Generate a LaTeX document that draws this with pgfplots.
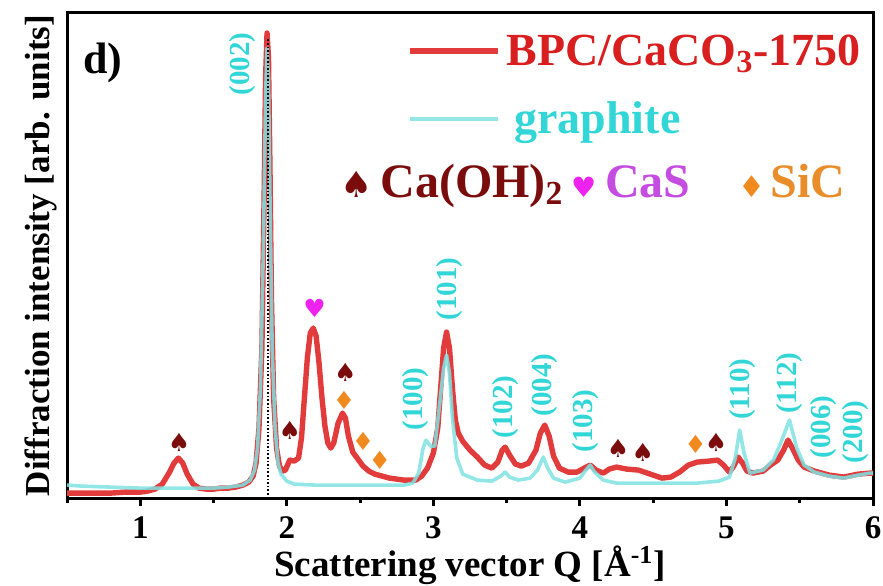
\documentclass[border=0pt]{standalone}
\usepackage{pgfplots}
\pgfplotsset{compat=1.18}
\usepackage{fontspec}
\setmainfont{Liberation Serif}
\newfontfamily\symfont{DejaVu Sans}
\definecolor{redline}{HTML}{E23B3B}
\definecolor{redtext}{HTML}{D81E1E}
\definecolor{cyanline}{HTML}{7FE2E2}
\definecolor{cyantext}{HTML}{33D6D6}
\definecolor{darkred}{HTML}{7A0C0C}
\definecolor{heartc}{HTML}{EE22EE}
\definecolor{casc}{HTML}{C44CE0}
\definecolor{orangec}{HTML}{F08A1E}
\definecolor{sicc}{HTML}{E98C2A}
\begin{document}
\begin{tikzpicture}
\begin{axis}[name=ax, scale only axis, width=403pt, height=242.5pt,
  xmin=0.5, xmax=6, ymin=0, ymax=485,
  axis line style={line width=1.5pt},
  xtick={1,2,3,4,5,6}, minor xtick={0.5,1.5,2.5,3.5,4.5,5.5}, ytick=\empty,
  xtick pos=bottom, tick align=outside,
  major tick length=4pt, minor tick length=2.5pt,
  tick style={black, line width=1.5pt},
  /pgf/number format/assume math mode=true,
  ticklabel style={font=\fontsize{16.5}{19}\selectfont\bfseries, inner sep=0.5pt},
  xticklabel style={yshift=-4.5pt},
  xlabel={Scattering vector Q [Å\textsuperscript{-1}]},
  xlabel style={font=\fontsize{18.5}{22}\selectfont\bfseries, inner sep=0pt, at={(axis description cs:0.5,-0.1608)}, anchor=base},
  ylabel={Diffraction intensity [arb. units]},
  ylabel style={font=\fontsize{17.5}{21}\selectfont\bfseries, inner sep=1pt, at={(axis description cs:-0.0211,0.5)}, anchor=base},
  legend style={at={(0.4218,0.9546)}, anchor=north west, draw=none, fill=none, inner sep=0pt, outer sep=0pt, row sep=18pt, column sep=3pt, nodes={inner sep=0pt, text height=15pt, text depth=1pt, font=\fontsize{23}{27}\selectfont\bfseries}},
  legend cell align=left,
  legend image code/.code={\draw[#1] (0pt,0pt) -- (44pt,0pt);},
  clip=false,
]
\addplot[redline, line width=2.7pt, line join=round] coordinates {
(0.50,5) (0.60,5) (0.70,5) (0.80,5) (0.90,6) (1.00,6) (1.05,7) (1.10,9) (1.15,14) (1.20,26) (1.23,35) (1.26,40) (1.29,35) (1.32,24) (1.36,14) (1.40,10) (1.45,9) (1.50,9) (1.55,10) (1.60,10) (1.65,11) (1.70,13) (1.74,16) (1.77,22) (1.79,35) (1.81,70) (1.83,150) (1.845,300) (1.855,420) (1.865,465) (1.875,440) (1.885,330) (1.895,200) (1.91,100) (1.93,50) (1.95,32) (1.97,27) (1.99,28) (2.02,38) (2.05,37) (2.08,40) (2.10,60) (2.12,100) (2.14,140) (2.16,165) (2.18,170) (2.20,162) (2.22,135) (2.24,100) (2.26,72) (2.28,55) (2.30,50) (2.32,55) (2.35,75) (2.38,85) (2.40,80) (2.42,62) (2.45,46) (2.48,40) (2.52,32) (2.56,27) (2.60,24) (2.70,20) (2.80,18) (2.88,18) (2.92,22) (2.96,30) (3.00,45) (3.03,70) (3.05,110) (3.07,150) (3.09,166) (3.11,150) (3.13,110) (3.15,78) (3.17,65) (3.20,57) (3.25,48) (3.30,41) (3.35,33) (3.40,30) (3.44,36) (3.47,48) (3.49,51) (3.52,43) (3.56,34) (3.60,32) (3.65,35) (3.70,48) (3.73,65) (3.76,73) (3.79,62) (3.82,42) (3.86,30) (3.92,26) (3.98,26) (4.03,30) (4.07,33) (4.11,28) (4.16,25) (4.20,29) (4.25,31) (4.32,29) (4.40,28) (4.48,24) (4.56,20) (4.62,21) (4.68,26) (4.74,33) (4.80,36) (4.88,37) (4.94,38) (4.98,33) (5.02,26) (5.05,32) (5.08,41) (5.11,35) (5.14,27) (5.18,25) (5.25,27) (5.30,33) (5.35,38) (5.39,48) (5.42,58) (5.45,50) (5.49,38) (5.53,31) (5.60,27) (5.70,23) (5.80,21) (5.90,24) (5.98,25) (6.00,25)
};
\addlegendentry{\textcolor{redtext}{BPC/CaCO\textsubscript{3}-1750}}
\addplot[cyanline, line width=1.8pt, line join=round, opacity=0.85] coordinates {
(0.50,13) (0.60,12) (0.80,11) (1.00,10) (1.20,10) (1.40,10) (1.50,10) (1.60,11) (1.70,13) (1.75,18) (1.78,28) (1.80,50) (1.82,110) (1.84,250) (1.855,400) (1.865,450) (1.875,420) (1.885,300) (1.90,150) (1.92,70) (1.94,35) (1.96,24) (2.00,17) (2.05,14) (2.20,13) (2.40,13) (2.60,13) (2.80,13) (2.86,15) (2.90,25) (2.93,50) (2.95,58) (2.98,52) (3.01,52) (3.04,90) (3.07,130) (3.09,143) (3.11,125) (3.13,80) (3.16,40) (3.20,24) (3.30,18) (3.40,17) (3.46,22) (3.49,26) (3.52,21) (3.58,18) (3.66,20) (3.71,28) (3.75,41) (3.78,30) (3.82,20) (3.90,16) (4.00,20) (4.04,28) (4.07,33) (4.10,26) (4.16,18) (4.25,15) (4.40,15) (4.60,15) (4.80,15) (4.95,17) (5.02,21) (5.06,40) (5.09,68) (5.12,45) (5.16,25) (5.25,28) (5.32,38) (5.37,55) (5.43,78) (5.48,50) (5.53,33) (5.60,26) (5.70,22) (5.80,20) (5.90,23) (5.98,25) (6.00,25)
};
\addlegendentry{\hspace*{4pt}\textcolor{cyantext}{graphite}}
\addplot[black, densely dotted, line width=0.8pt, forget plot] coordinates {(1.87,0) (1.87,460)};

% peak labels
\begin{scope}[every node/.style={rotate=90, text=cyantext, font=\fontsize{14.5}{16}\selectfont\bfseries, inner sep=0pt}]
\node at (axis cs:1.70,434) {(002)};
\node at (axis cs:2.88,99) {(100)};
\node at (axis cs:3.11,209) {(101)};
\node at (axis cs:3.49,91) {(102)};
\node at (axis cs:3.76,113) {(004)};
\node at (axis cs:4.04,77) {(103)};
\node at (axis cs:5.11,109) {(110)};
\node at (axis cs:5.43,115) {(112)};
\node at (axis cs:5.66,71) {(006)};
\node at (axis cs:5.88,66) {(200)};
\end{scope}
% phase markers
\begin{scope}[every node/.style={font=\symfont\fontsize{12.5}{14}\selectfont, inner sep=0pt}]
\node[text=darkred] at (axis cs:1.265,56) {♠};
\node[text=darkred] at (axis cs:2.02,68) {♠};
\node[text=heartc] at (axis cs:2.19,190) {♥};
\node[text=darkred] at (axis cs:2.40,126) {♠};
\node[text=orangec] at (axis cs:2.39,98) {♦};
\node[text=orangec] at (axis cs:2.52,57) {♦};
\node[text=orangec] at (axis cs:2.635,38) {♦};
\node[text=darkred] at (axis cs:4.26,50) {♠};
\node[text=darkred] at (axis cs:4.43,46) {♠};
\node[text=orangec] at (axis cs:4.79,54) {♦};
\node[text=darkred] at (axis cs:4.93,56) {♠};
\end{scope}
% panel letter
\node[anchor=base west, inner sep=0pt, font=\fontsize{22}{26}\selectfont\bfseries] at (axis description cs:0.0199,0.8763) {d)};
% phase key row
\node[anchor=base west, inner sep=0pt, text=darkred, font=\symfont\fontsize{18}{20}\selectfont] at (axis description cs:0.3390,0.6206) {♠};
\node[anchor=base west, inner sep=0pt, text=darkred, font=\fontsize{24}{28}\selectfont\bfseries] at (axis description cs:0.3883,0.6206) {Ca(OH)\textsubscript{2}};
\node[anchor=base west, inner sep=0pt, text=heartc, font=\symfont\fontsize{14}{16}\selectfont] at (axis description cs:0.6250,0.6206) {♥};
\node[anchor=base west, inner sep=0pt, text=casc, font=\fontsize{24}{28}\selectfont\bfseries] at (axis description cs:0.6670,0.6206) {CaS};
\node[anchor=base west, inner sep=0pt, text=orangec, font=\symfont\fontsize{15}{17}\selectfont] at (axis description cs:0.8330,0.6206) {♦};
\node[anchor=base west, inner sep=0pt, text=sicc, font=\fontsize{24}{28}\selectfont\bfseries] at (axis description cs:0.8722,0.6206) {SiC};
\end{axis}
\pgfresetboundingbox
\path[use as bounding box] ([xshift=-33.5pt,yshift=-43.5pt]ax.south west) rectangle ([xshift=5pt,yshift=6.5pt]ax.north east);
\end{tikzpicture}
\end{document}
